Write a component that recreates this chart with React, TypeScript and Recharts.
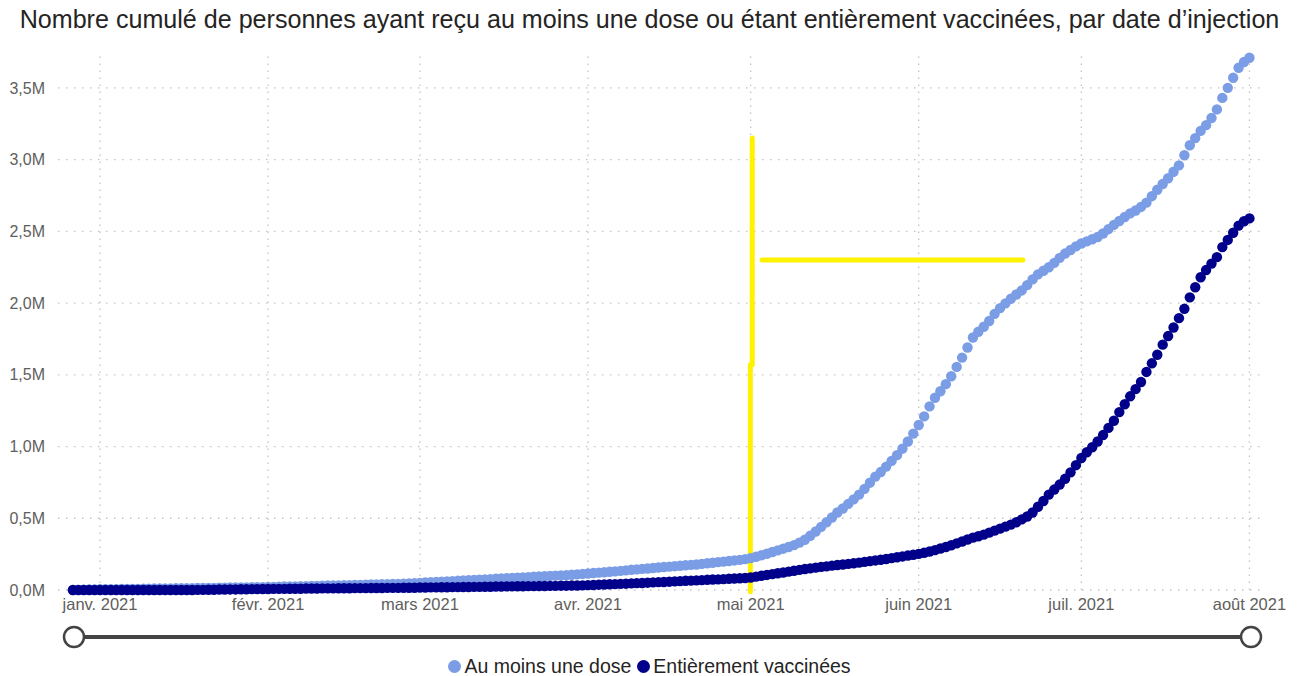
import React from "react";
import { LineChart, Line, XAxis, YAxis, ReferenceLine } from "recharts";

// Day offsets relative to 1 Jan 2021; first data point is 27 Dec 2020
const startDay = -5;

const monthTicks = [0, 31, 59, 90, 120, 151, 181, 212];
const monthLabels = ["janv. 2021", "févr. 2021", "mars 2021", "avr. 2021", "mai 2021", "juin 2021", "juil. 2021", "août 2021"];
const yTicks = [0, 0.5, 1.0, 1.5, 2.0, 2.5, 3.0, 3.5];

const seriesNames = ["Au moins une dose", "Entièrement vaccinées"];
const seriesColors = ["#7B9DE6", "#00008B"];

// Millions of people, one value per day
const firstDose: number[] = [
  // Dec 27-31
  0.000, 0.001, 0.002, 0.003, 0.004,
  // Jan
  0.005, 0.005, 0.006, 0.006, 0.007, 0.007, 0.008, 0.008, 0.009, 0.009, 0.010, 0.010, 0.011, 0.011, 0.012, 0.012,
  0.013, 0.013, 0.014, 0.014, 0.015, 0.015, 0.016, 0.016, 0.017, 0.017, 0.018, 0.018, 0.019, 0.019, 0.020,
  // Feb
  0.021, 0.022, 0.023, 0.024, 0.024, 0.025, 0.026, 0.027, 0.028, 0.029, 0.030, 0.031, 0.031, 0.032,
  0.033, 0.034, 0.035, 0.036, 0.037, 0.038, 0.039, 0.040, 0.041, 0.042, 0.043, 0.044, 0.046, 0.047,
  // Mar
  0.050, 0.052, 0.054, 0.056, 0.058, 0.060, 0.062, 0.064, 0.066, 0.068, 0.070, 0.072, 0.074, 0.076, 0.078, 0.080,
  0.082, 0.084, 0.086, 0.088, 0.090, 0.092, 0.094, 0.096, 0.098, 0.100, 0.102, 0.104, 0.106, 0.109, 0.112,
  // Apr
  0.115, 0.118, 0.121, 0.124, 0.127, 0.130, 0.133, 0.137, 0.141, 0.144, 0.147, 0.150, 0.153, 0.157, 0.160,
  0.163, 0.166, 0.169, 0.172, 0.175, 0.178, 0.182, 0.186, 0.190, 0.194, 0.198, 0.202, 0.206, 0.210, 0.215,
  // May
  0.222, 0.232, 0.242, 0.253, 0.265, 0.276, 0.288, 0.300, 0.313, 0.330, 0.350, 0.378, 0.408, 0.440, 0.472, 0.505,
  0.540, 0.568, 0.600, 0.632, 0.665, 0.705, 0.748, 0.790, 0.822, 0.860, 0.900, 0.940, 0.985, 1.035, 1.090,
  // Jun
  1.150, 1.210, 1.280, 1.340, 1.385, 1.435, 1.490, 1.555, 1.620, 1.690, 1.760, 1.800, 1.835, 1.875, 1.925,
  1.965, 1.998, 2.030, 2.060, 2.088, 2.125, 2.165, 2.200, 2.225, 2.250, 2.280, 2.315, 2.345, 2.370, 2.395,
  // Jul
  2.415, 2.430, 2.445, 2.460, 2.485, 2.515, 2.545, 2.572, 2.600, 2.625, 2.645, 2.670, 2.700, 2.745, 2.790, 2.830,
  2.870, 2.915, 2.960, 3.030, 3.100, 3.150, 3.200, 3.240, 3.290, 3.350, 3.430, 3.500, 3.570, 3.640, 3.680,
  // Aug 1
  3.710,
];

const fullyVaccinated: number[] = [
  // Dec 27-31
  0.000, 0.000, 0.000, 0.000, 0.000,
  // Jan
  0.000, 0.000, 0.000, 0.000, 0.000, 0.000, 0.000, 0.000, 0.000, 0.000, 0.000, 0.000, 0.000, 0.000, 0.000, 0.000,
  0.000, 0.000, 0.001, 0.001, 0.002, 0.002, 0.003, 0.003, 0.004, 0.004, 0.005, 0.005, 0.006, 0.006, 0.007,
  // Feb
  0.007, 0.008, 0.008, 0.008, 0.009, 0.009, 0.009, 0.010, 0.010, 0.010, 0.011, 0.011, 0.011, 0.012,
  0.012, 0.012, 0.013, 0.013, 0.013, 0.014, 0.014, 0.014, 0.015, 0.015, 0.015, 0.016, 0.016, 0.016,
  // Mar
  0.017, 0.017, 0.018, 0.018, 0.019, 0.019, 0.020, 0.020, 0.021, 0.021, 0.022, 0.022, 0.023, 0.023, 0.024, 0.024,
  0.025, 0.025, 0.026, 0.026, 0.027, 0.027, 0.028, 0.028, 0.029, 0.029, 0.030, 0.030, 0.031, 0.031, 0.032,
  // Apr
  0.034, 0.035, 0.037, 0.038, 0.040, 0.041, 0.043, 0.044, 0.046, 0.048, 0.049, 0.051, 0.053, 0.055, 0.056,
  0.058, 0.060, 0.062, 0.064, 0.065, 0.067, 0.069, 0.071, 0.073, 0.074, 0.076, 0.078, 0.080, 0.082, 0.084,
  // May
  0.087, 0.093, 0.099, 0.105, 0.111, 0.117, 0.122, 0.128, 0.134, 0.140, 0.146, 0.151, 0.156, 0.161, 0.165, 0.170,
  0.174, 0.178, 0.182, 0.186, 0.191, 0.196, 0.201, 0.206, 0.211, 0.216, 0.222, 0.228, 0.234, 0.240, 0.246,
  // Jun
  0.252, 0.260, 0.268, 0.278, 0.289, 0.300, 0.312, 0.325, 0.338, 0.352, 0.365, 0.375, 0.386, 0.400, 0.414,
  0.428, 0.442, 0.456, 0.472, 0.492, 0.512, 0.540, 0.580, 0.620, 0.665, 0.700, 0.735, 0.775, 0.820, 0.870,
  // Jul
  0.920, 0.960, 0.995, 1.035, 1.080, 1.130, 1.180, 1.240, 1.295, 1.350, 1.400, 1.450, 1.520, 1.580, 1.640, 1.710,
  1.770, 1.830, 1.895, 1.960, 2.040, 2.110, 2.180, 2.230, 2.275, 2.320, 2.390, 2.440, 2.490, 2.540, 2.570,
  // Aug 1
  2.590,
];

// Hand-drawn yellow annotation strokes (day offset, millions)
const markVertUpper = [{ x: 120.3, y: 3.15 }, { x: 120.3, y: 1.57 }];
const markVertLower = [{ x: 119.95, y: 1.57 }, { x: 119.95, y: -0.012 }];
const markHoriz = [{ x: 122.1, y: 2.3 }, { x: 170.2, y: 2.3 }];

const data = firstDose.map((v, i) => ({
  day: startDay + i,
  first: v,
  full: fullyVaccinated[i],
}));

const FONT = "'Liberation Sans', Arial, sans-serif";
const GRID = "#c4c4c4";

const fmtY = (v: number) => v.toFixed(1).replace(".", ",") + "M";
const fmtX = (v: number) => {
  const idx = monthTicks.indexOf(v);
  return idx >= 0 ? monthLabels[idx] : "";
};

export default function App() {
  return (
    <div style={{ position: "absolute", left: 0, top: 0, width: 1299, height: 676, background: "#fff", fontFamily: FONT }}>
      <div
        style={{
          position: "absolute",
          left: 0,
          top: 5,
          width: 1299,
          textAlign: "center",
          fontSize: 25.1,
          color: "#252423",
          whiteSpace: "nowrap",
        }}
      >
        Nombre cumulé de personnes ayant reçu au moins une dose ou étant entièrement vaccinées, par date d’injection
      </div>
      <div style={{ position: "absolute", left: 0, top: 0 }}>
        <LineChart width={1299} height={620} data={data} margin={{ top: 52, right: 36, left: 0, bottom: 0 }}>
          <XAxis
            dataKey="day"
            type="number"
            domain={[-7.75, 214.5]}
            ticks={monthTicks}
            tickFormatter={fmtX}
            axisLine={false}
            tickLine={false}
            tickSize={0}
            tickMargin={8}
            height={30}
            interval={0}
            tick={{ fill: "#605E5C", fontSize: 16.5, fontFamily: FONT }}
          />
          <YAxis
            type="number"
            domain={[0, 3.75]}
            ticks={yTicks}
            tickFormatter={fmtY}
            axisLine={false}
            tickLine={false}
            tickSize={0}
            tickMargin={13}
            width={58}
            interval={0}
            tick={{ fill: "#605E5C", fontSize: 16, fontFamily: FONT }}
          />
          {monthTicks.map((t) => (
            <ReferenceLine key={"vx" + t} x={t} stroke={GRID} strokeDasharray="1.5 5.5" strokeWidth={1.3} />
          ))}
          {yTicks.map((t) => (
            <ReferenceLine key={"hy" + t} y={t} stroke={GRID} strokeDasharray="1.5 6.5" strokeWidth={1.3} />
          ))}
          <Line
            dataKey="first"
            name={seriesNames[0]}
            stroke="none"
            isAnimationActive={false}
            dot={{ r: 5.2, fill: seriesColors[0], stroke: "none" }}
            activeDot={false}
          />
          <Line
            dataKey="full"
            name={seriesNames[1]}
            stroke="none"
            isAnimationActive={false}
            dot={{ r: 5.2, fill: seriesColors[1], stroke: "none" }}
            activeDot={false}
          />
          <ReferenceLine segment={markVertUpper} stroke="#FFF200" strokeWidth={5} strokeLinecap="round" ifOverflow="visible" />
          <ReferenceLine segment={markVertLower} stroke="#FFF200" strokeWidth={5} strokeLinecap="round" ifOverflow="visible" />
          <ReferenceLine segment={markHoriz} stroke="#FFF200" strokeWidth={5} strokeLinecap="round" ifOverflow="visible" />
        </LineChart>
      </div>
      <svg style={{ position: "absolute", left: 0, top: 620 }} width={1299} height={34}>
        <line x1={74} y1={17} x2={1251} y2={17} stroke="#444" strokeWidth={4} />
        <circle cx={74} cy={17} r={10} fill="#fff" stroke="#444" strokeWidth={2.5} />
        <circle cx={1251} cy={17} r={10} fill="#fff" stroke="#444" strokeWidth={2.5} />
      </svg>
      <div
        style={{
          position: "absolute",
          left: 0,
          top: 655,
          width: 1299,
          display: "flex",
          justifyContent: "center",
          alignItems: "center",
          fontSize: 19.5,
          lineHeight: "22px",
          color: "#252423",
          whiteSpace: "nowrap",
        }}
      >
        {seriesNames.map((n, i) => (
          <span key={n} style={{ display: "inline-flex", alignItems: "center", marginLeft: i === 0 ? 0 : 6 }}>
            <span
              style={{
                display: "inline-block",
                width: 13,
                height: 13,
                borderRadius: 7,
                background: seriesColors[i],
                marginRight: 3,
              }}
            />
            {n}
          </span>
        ))}
      </div>
    </div>
  );
}
